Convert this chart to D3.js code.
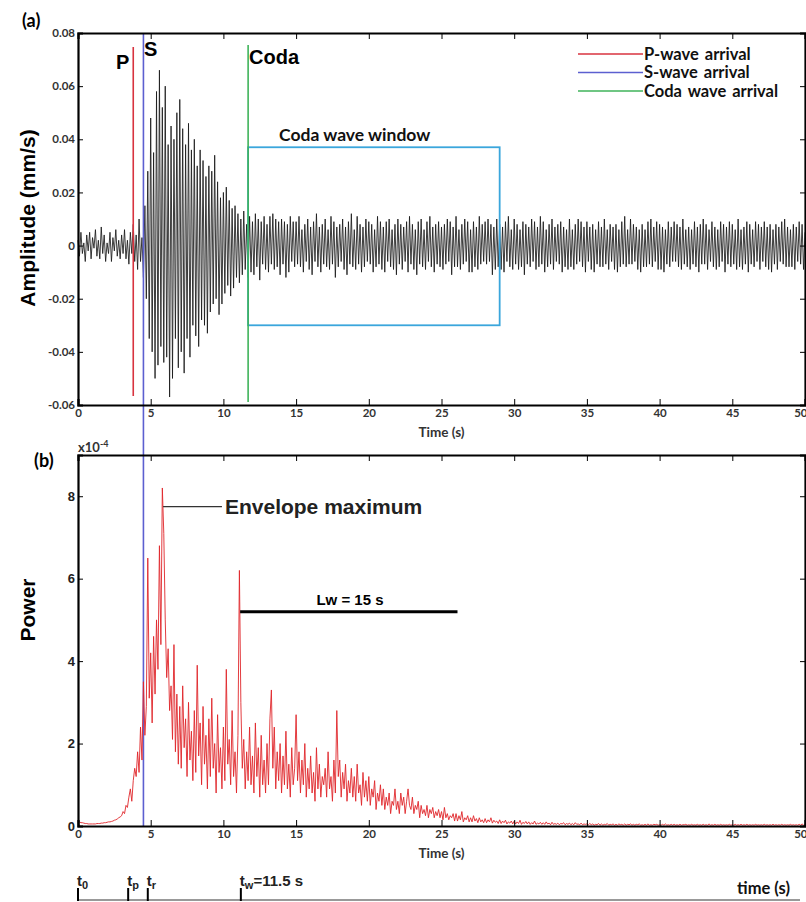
<!DOCTYPE html>
<html><head><meta charset="utf-8">
<script src="https://cdn.jsdelivr.net/npm/d3@7"></script>
<style>
body{margin:0;background:#fff;}
svg{display:block;}
.tk text{font-family:Lato,"Open Sans",sans-serif;font-weight:700;font-size:11.5px;fill:#333;}
.tk path,.tk line{stroke:#000;}
.tkb text{font-family:"Liberation Sans",Arial,sans-serif;font-weight:700;font-size:13px;fill:#222;}
</style></head>
<body><svg id="c" width="806" height="902"></svg>
<script>
// ---------- DATA ----------
const sampleStep = 0.1; // seconds between samples
// Seismogram amplitude, units of 1e-3 mm/s, 10 samples per second (0..50 s)
const amplitudeE3 = [
 2,-4,5,-3,1,-6,4,-2,5,-5,
 3,-1,6,-4,2,-5,7,-3,4,-6,
 1,-3,5,-6,3,-2,6,-4,2,-5,
 4,-3,6,-5,2,-7,5,-3,8,-6,
 4,-9,10,-6,3,-12,15,-20,28,-35,
 48,-40,35,-50,58,-45,66,-38,52,-44,
 60,-42,38,-57,45,-50,40,-35,50,-46,
 55,-40,44,-48,38,-35,46,-42,36,-30,
 40,-34,30,-38,36,-28,32,-30,26,-33,
 30,-25,28,-22,34,-20,24,-26,18,-22,
 20,-18,22,-15,17,-19,14,-16,15,-12,
 12,-14,10,-11,13,-9,8,-12,11,-10,
 9,-11,12,-8,10,-13,9,-7,11,-9,
 8,-10,11,-7,12,-9,10,-8,9,-11,
 10,-7,9,-12,8,-10,11,-6,9,-8,
 9,-7,11,-8,6,-10,8,-6,10,-9,
 7,-11,9,-6,12,-8,7,-10,8,-7,
 10,-8,6,-9,11,-7,9,-12,7,-8,
 8,-6,10,-9,7,-11,9,-7,12,-8,
 6,-9,11,-7,8,-10,7,-8,10,-6,
 9,-7,8,-10,6,-8,11,-7,9,-9,
 7,-10,9,-6,10,-8,6,-9,8,-11,
 10,-7,8,-9,7,-6,9,-10,11,-7,
 8,-9,6,-11,9,-7,10,-8,6,-9,
 9,-6,11,-8,7,-10,8,-7,9,-8,
 7,-9,8,-7,10,-6,9,-11,7,-8,
 11,-8,6,-9,8,-7,10,-6,9,-10,
 6,-10,9,-8,7,-9,11,-7,8,-6,
 9,-7,10,-6,8,-11,7,-9,10,-8,
 8,-9,7,-10,9,-6,11,-8,6,-9,
 10,-7,8,-9,6,-8,9,-11,8,-7,
 7,-8,10,-6,9,-9,7,-8,11,-7,
 9,-10,6,-8,8,-7,10,-9,7,-6,
 8,-7,9,-10,7,-8,6,-9,10,-8,
 6,-9,8,-7,10,-6,9,-8,7,-10,
 9,-6,7,-9,8,-10,6,-7,9,-8,
 7,-8,10,-7,6,-9,8,-6,7,-9,
 8,-10,6,-8,9,-7,11,-8,6,-7,
 10,-7,8,-6,7,-9,6,-10,8,-8,
 6,-8,9,-7,10,-8,7,-6,9,-9,
 8,-9,7,-10,6,-7,9,-8,7,-6,
 9,-6,8,-8,7,-9,10,-7,6,-8,
 7,-9,6,-7,9,-8,7,-10,8,-7,
 10,-7,8,-9,6,-6,9,-8,7,-9,
 6,-8,9,-6,8,-10,7,-7,9,-8,
 8,-7,6,-9,10,-8,6,-9,7,-7,
 9,-10,8,-7,6,-8,9,-6,8,-9,
 7,-6,9,-8,7,-9,8,-10,6,-7,
 8,-9,7,-6,9,-7,10,-8,7,-8,
 6,-8,8,-9,7,-6,9,-7,8,-9,
 5
];
// Power (envelope), units of 1e-4, 10 samples per second (0..50 s)
const powerE4 = [
 .12,.1,.08,.08,.07,.06,.06,.05,.05,.05,
 .05,.05,.05,.06,.06,.06,.07,.07,.08,.08,
 .09,.1,.1,.11,.12,.14,.15,.17,.2,.22,
 .25,.35,.3,.5,.45,.7,.9,.6,1.1,1.4,
 1.2,1.8,1.3,2.4,1.6,3.5,2.2,2.9,6.5,3.1,
 4.2,2.5,4.6,3.2,5.0,3.8,6.8,4.4,8.2,7.1,
 5.0,3.6,4.3,2.8,3.4,2.1,4.4,1.8,3.2,1.5,
 2.9,1.4,3.4,1.9,2.6,1.2,3.0,1.6,2.3,1.1,
 2.8,1.3,3.9,1.7,2.5,1.0,2.9,1.5,2.2,0.9,
 2.6,1.2,3.1,1.4,2.0,0.8,2.7,1.3,1.9,0.9,
 2.4,1.1,3.8,1.5,2.1,1.0,2.8,1.2,1.8,0.8,
 2.2,6.2,3.0,1.4,2.1,0.9,1.8,1.1,2.4,1.0,
 1.7,0.8,2.5,1.2,1.9,0.7,2.2,1.0,1.6,0.8,
 2.0,1.0,2.6,3.3,1.4,2.4,0.9,1.8,1.1,2.0,
 0.8,1.7,1.0,2.3,0.9,1.5,0.7,1.9,1.0,1.4,
 2.7,1.1,1.8,0.8,1.6,1.0,2.0,0.7,1.4,0.9,
 1.7,0.8,1.3,0.6,1.9,0.9,1.5,0.7,1.2,1.0,
 1.4,0.7,1.8,0.9,1.2,0.6,1.6,0.8,2.8,1.2,
 1.6,0.7,1.3,0.9,1.5,0.6,1.1,0.8,1.4,0.7,
 1.2,0.6,1.5,0.8,1.0,0.5,1.3,0.7,1.1,0.6,
 1.2,0.5,0.9,0.7,1.1,0.4,0.8,0.6,1.0,0.5,
 0.9,0.4,0.7,0.5,0.8,0.3,0.6,0.5,0.9,0.4,
 0.6,0.3,0.8,0.5,0.7,0.3,0.6,0.9,0.5,0.4,
 0.7,0.3,0.5,0.4,0.6,0.2,0.5,0.3,0.4,0.25,
 0.5,0.2,0.4,0.3,0.45,0.2,0.35,0.25,0.4,0.2,
 0.35,0.15,0.45,0.2,0.3,0.15,0.25,0.2,0.3,0.12,
 0.3,0.12,0.25,0.15,0.35,0.1,0.2,0.15,0.25,0.1,
 0.2,0.1,0.25,0.12,0.18,0.08,0.2,0.1,0.15,0.08,
 0.18,0.08,0.15,0.1,0.2,0.07,0.14,0.09,0.12,0.06,
 0.15,0.06,0.12,0.08,0.14,0.05,0.1,0.07,0.12,0.05,
 .12,.05,.1,.06,.14,.04,.09,.06,.11,.05,
 .1,.04,.08,.05,.12,.04,.07,.05,.09,.04,
 .08,.04,.1,.05,.07,.03,.09,.04,.06,.04,
 .07,.03,.06,.05,.08,.03,.06,.04,.07,.03,
 .06,.03,.08,.04,.05,.03,.07,.03,.05,.04,
 .05,.03,.06,.03,.05,.02,.04,.03,.06,.02,
 .05,.02,.04,.03,.06,.02,.04,.03,.05,.02,
 .04,.02,.05,.03,.04,.02,.05,.02,.04,.03,
 .05,.02,.04,.02,.04,.03,.05,.02,.03,.02,
 .04,.02,.05,.02,.03,.02,.04,.03,.04,.02,
 .03,.02,.04,.02,.05,.02,.03,.02,.04,.02,
 .04,.02,.03,.02,.04,.02,.03,.03,.04,.02,
 .03,.02,.04,.02,.03,.02,.04,.02,.03,.02,
 .04,.02,.03,.02,.05,.02,.03,.02,.04,.02,
 .03,.02,.04,.02,.03,.02,.03,.02,.04,.02,
 .03,.02,.04,.02,.03,.02,.04,.02,.03,.02,
 .04,.02,.03,.02,.03,.02,.04,.02,.03,.02,
 .03,.02,.04,.02,.03,.02,.03,.02,.04,.02,
 .03,.02,.03,.02,.04,.02,.03,.02,.03,.02,
 .04,.02,.03,.02,.03,.02,.04,.02,.05,.02,
 .03
];
const timeTicks = [0,5,10,15,20,25,30,35,40,45,50];
const amplitudeTicks = [-0.06,-0.04,-0.02,0,0.02,0.04,0.06,0.08];
const amplitudeTickLabels = ["-0.06","-0.04","-0.02","0","0.02","0.04","0.06","0.08"];
const powerTicks = [0,2,4,6,8];
const powerTickLabels = ["0","2","4","6","8"];
const arrivalNames = ["P-wave arrival","S-wave arrival","Coda wave arrival"];
const arrivalLabels = ["P","S","Coda"];
const arrivalTimes = [3.8,4.5,11.7];
const arrivalColors = ["#d8333f","#5c5fd0","#3fb35a"];
const codaWindow = {t0:11.7, t1:29.0, ampTop:0.037, ampBottom:-0.030};
const envelopeMax = {t:5.85, tText:9.9, power:7.75};
const lwSegment = {t0:11.15, t1:26.1, power:5.2, label:"Lw = 15 s"};
const timelineMarks = [{t:0,n:"0"},{t:3.45,n:"p"},{t:4.8,n:"r"},{t:11.2,n:"w",extra:"=11.5 s"}];

// ---------- SCALES ----------
const svg = d3.select("#c");
const x = d3.scaleLinear().domain([0,50]).range([78,805]);
const yA = d3.scaleLinear().domain([-0.06,0.08]).range([405,33]);
const yB = d3.scaleLinear().domain([0,9]).range([826,455]);
const sans = "Liberation Sans, Arial, sans-serif";
const cal = "Lato, 'Open Sans', sans-serif";

function frame(y, top, bottom, ticks, labels, leftClass){
  const g = svg.append("g");
  g.append("g").attr("class","tk").attr("transform",`translate(0,${bottom})`)
    .call(d3.axisBottom(x).tickValues(timeTicks).tickSize(-6).tickPadding(4).tickFormat(d3.format("d")))
    .call(s=>s.select(".domain").attr("stroke-width",2.2))
    .call(s=>s.selectAll(".tick text").filter(d=>d===50).attr("text-anchor","end").attr("x",2));
  g.append("g").attr("class","tk").attr("transform",`translate(0,${top})`)
    .call(d3.axisTop(x).tickValues(timeTicks).tickSize(-6).tickFormat(""))
    .call(s=>s.select(".domain").attr("stroke-width",2.2));
  g.append("g").attr("class",leftClass).attr("transform",`translate(${x(0)},0)`)
    .call(d3.axisLeft(y).tickValues(ticks).tickSize(-5).tickPadding(3).tickFormat((d,i)=>labels[i]))
    .call(s=>s.select(".domain").attr("stroke-width",2.2));
  g.append("g").attr("class","tk").attr("transform",`translate(${x(50)},0)`)
    .call(d3.axisRight(y).tickValues(ticks).tickSize(-5).tickFormat(""))
    .call(s=>s.select(".domain").attr("stroke-width",2.2));
  return g;
}

// ---------- PANEL A ----------
const lineA = d3.line().x((d,i)=>x(i*sampleStep)).y(d=>yA(d*1e-3));
svg.append("path").datum(amplitudeE3).attr("d",lineA)
  .attr("fill","none").attr("stroke","#1a1a1a").attr("stroke-width",0.85).attr("stroke-linejoin","round");

// coda window
svg.append("rect").attr("x",x(codaWindow.t0)).attr("y",yA(codaWindow.ampTop))
  .attr("width",x(codaWindow.t1)-x(codaWindow.t0)).attr("height",yA(codaWindow.ampBottom)-yA(codaWindow.ampTop))
  .attr("fill","none").attr("stroke","#3aa6dc").attr("stroke-width",1.8);
svg.append("text").attr("x",x(codaWindow.t0)+31).attr("y",141)
  .attr("font-family",cal).attr("font-weight",700).attr("font-size",17.5).attr("fill","#111").text("Coda wave window");

// arrival lines
const arrTop = [47,33,45], arrBot = [396,827,402];
arrivalTimes.forEach((t,i)=>{
  svg.append("line").attr("x1",x(t)).attr("x2",x(t)).attr("y1",arrTop[i]).attr("y2",arrBot[i])
    .attr("stroke",arrivalColors[i]).attr("stroke-width",1.6);
});
const lblX=[116,144,249], lblY=[69,56,64];
arrivalLabels.forEach((l,i)=>svg.append("text").attr("x",lblX[i]).attr("y",lblY[i])
  .attr("font-family",sans).attr("font-weight",700).attr("font-size",20).text(l));

// legend
arrivalNames.forEach((n,i)=>{
  const yy = 54+i*18.5;
  svg.append("line").attr("x1",578).attr("x2",643).attr("y1",yy).attr("y2",yy)
    .attr("stroke",arrivalColors[i]).attr("stroke-width",1.6);
  svg.append("text").attr("x",644).attr("y",yy+5.5).attr("font-family",cal).attr("font-weight",700)
    .attr("font-size",16.5).attr("word-spacing",2).attr("fill","#111").text(n);
});

frame(yA,33,405,amplitudeTicks,amplitudeTickLabels,"tk");
svg.append("text").attr("x",x(25)).attr("y",437).attr("text-anchor","middle")
  .attr("font-family",cal).attr("font-weight",700).attr("font-size",13.5).attr("fill","#333").text("Time (s)");
svg.append("text").attr("transform","translate(35,218) rotate(-90)").attr("text-anchor","middle")
  .attr("font-family",sans).attr("font-weight",700).attr("font-size",21).text("Amplitude (mm/s)");
svg.append("text").attr("x",22).attr("y",27).attr("font-family",cal).attr("font-weight",700).attr("font-size",18).text("(a)");

// ---------- PANEL B ----------
const lineB = d3.line().x((d,i)=>x(i*sampleStep)).y(d=>yB(d));
svg.append("path").datum(powerE4).attr("d",lineB)
  .attr("fill","none").attr("stroke","#e0262a").attr("stroke-width",0.9).attr("stroke-linejoin","round");
frame(yB,455,826,powerTicks,powerTickLabels,"tk tkb");
svg.append("text").attr("x",x(25)).attr("y",858).attr("text-anchor","middle")
  .attr("font-family",cal).attr("font-weight",700).attr("font-size",13.5).attr("fill","#333").text("Time (s)");
svg.append("text").attr("transform","translate(35,610) rotate(-90)").attr("text-anchor","middle")
  .attr("font-family",sans).attr("font-weight",700).attr("font-size",21).text("Power");
svg.append("text").attr("x",34).attr("y",467).attr("font-family",cal).attr("font-weight",700).attr("font-size",18).text("(b)");
const xl = svg.append("text").attr("x",78).attr("y",452).attr("font-family",cal).attr("font-weight",700).attr("font-size",13).attr("fill","#333");
xl.append("tspan").text("x10");
xl.append("tspan").attr("dy",-5).attr("font-size",9).text("-4");

// envelope max annotation
svg.append("line").attr("x1",x(envelopeMax.t)).attr("x2",x(envelopeMax.tText)).attr("y1",yB(envelopeMax.power)).attr("y2",yB(envelopeMax.power))
  .attr("stroke","#333").attr("stroke-width",1.3);
svg.append("text").attr("x",x(envelopeMax.tText)+3).attr("y",yB(envelopeMax.power)+7)
  .attr("font-family",sans).attr("font-weight",700).attr("font-size",21).attr("fill","#222").text("Envelope maximum");
// Lw segment
svg.append("line").attr("x1",x(lwSegment.t0)).attr("x2",x(lwSegment.t1)).attr("y1",yB(lwSegment.power)).attr("y2",yB(lwSegment.power))
  .attr("stroke","#000").attr("stroke-width",3);
svg.append("text").attr("x",350).attr("y",yB(lwSegment.power)-7).attr("text-anchor","middle")
  .attr("font-family",sans).attr("font-weight",700).attr("font-size",15).text(lwSegment.label);

// ---------- TIMELINE ----------
svg.append("line").attr("x1",x(0)).attr("x2",800).attr("y1",900).attr("y2",900).attr("stroke","#999").attr("stroke-width",2);
timelineMarks.forEach(m=>{
  svg.append("line").attr("x1",x(m.t)).attr("x2",x(m.t)).attr("y1",888).attr("y2",901).attr("stroke","#000").attr("stroke-width",2);
  const t = svg.append("text").attr("x",x(m.t)-1).attr("y",886).attr("font-family",sans).attr("font-weight",700).attr("font-size",15).attr("fill","#222");
  t.append("tspan").text("t");
  t.append("tspan").attr("dy",3).attr("font-size",11).text(m.n);
  if(m.extra) t.append("tspan").attr("dy",-3).text(m.extra);
});
svg.append("text").attr("x",790).attr("y",894).attr("text-anchor","end").attr("font-family",cal).attr("font-weight",700).attr("font-size",16.5).attr("fill","#111").text("time (s)");
</script></body></html>
